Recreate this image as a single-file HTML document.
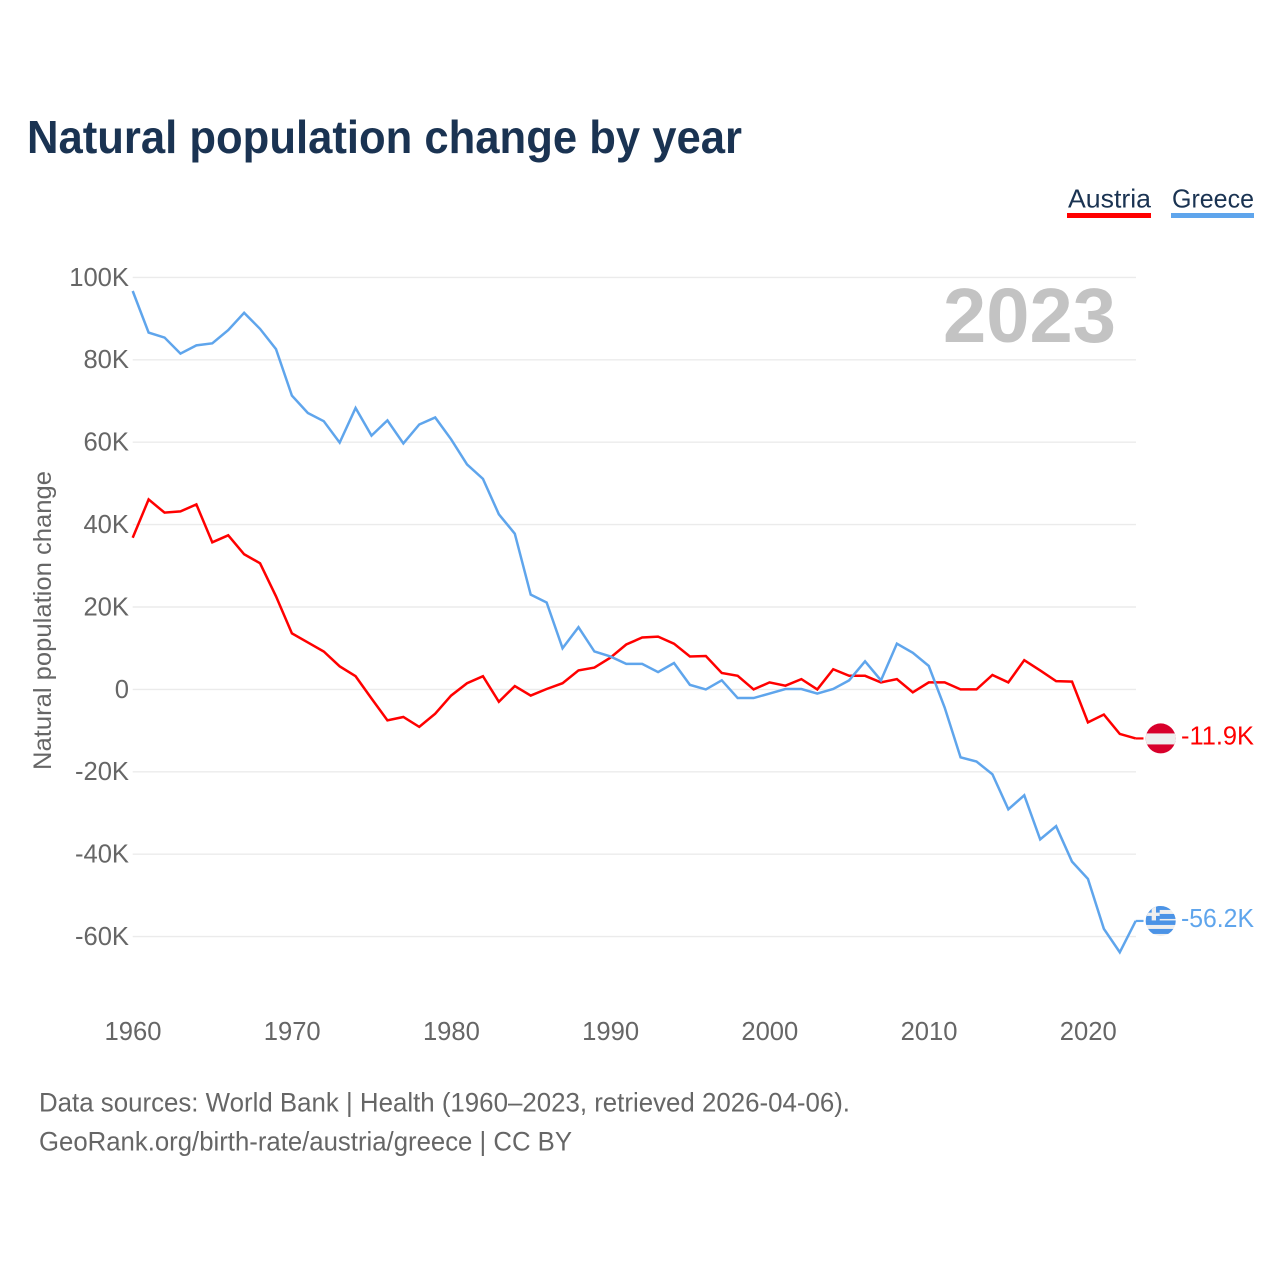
<!DOCTYPE html>
<html lang="en">
<head>
<meta charset="utf-8">
<title>Natural population change by year</title>
<style>
  html, body { margin: 0; padding: 0; background: #fff; }
  svg { display: block; font-family: "Liberation Sans", sans-serif; }
</style>
</head>
<body>
<svg id="chart" xmlns="http://www.w3.org/2000/svg" width="1280" height="1280" viewBox="0 0 1280 1280">
  <rect width="1280" height="1280" fill="#fff"/>
  <text x="27" y="153" font-size="46" font-weight="700" fill="#1a3352" textLength="715" lengthAdjust="spacingAndGlyphs">Natural population change by year</text>

  <g>
    <g>
      <text x="1068" y="207.5" font-size="26" fill="#1a3352" textLength="83" lengthAdjust="spacingAndGlyphs">Austria</text>
      <rect x="1067" y="213" width="84" height="5" fill="#ff0000"/>
    </g>
    <g>
      <text x="1172" y="207.5" font-size="26" fill="#1a3352" textLength="82" lengthAdjust="spacingAndGlyphs">Greece</text>
      <rect x="1171" y="213" width="83" height="5" fill="#5fa5ec"/>
    </g>
  </g>

  <text transform="translate(51 770) rotate(-90)" font-size="25" fill="#666" textLength="299" lengthAdjust="spacingAndGlyphs">Natural population change</text>

  <g id="grid"></g>
  <g id="yticks"></g>
  <g id="xticks"></g>

  <text x="943" y="342" font-size="77" font-weight="700" fill="#c3c3c3" textLength="173" lengthAdjust="spacingAndGlyphs">2023</text>

  <g id="lines"></g>
  <g id="ends"></g>

  <defs>
    <clipPath id="clip-flag"><circle cx="0" cy="0" r="15"/></clipPath>
  </defs>

  <g>
    <text x="39" y="1111.5" font-size="27" fill="#666" textLength="811" lengthAdjust="spacingAndGlyphs">Data sources: World Bank | Health (1960–2023, retrieved 2026-04-06).</text>
    <text x="39" y="1150.5" font-size="27" fill="#666" textLength="533" lengthAdjust="spacingAndGlyphs">GeoRank.org/birth-rate/austria/greece | CC BY</text>
  </g>
</svg>
<script>
const years = [1960,1961,1962,1963,1964,1965,1966,1967,1968,1969,1970,1971,1972,1973,1974,1975,1976,1977,1978,1979,1980,1981,1982,1983,1984,1985,1986,1987,1988,1989,1990,1991,1992,1993,1994,1995,1996,1997,1998,1999,2000,2001,2002,2003,2004,2005,2006,2007,2008,2009,2010,2011,2012,2013,2014,2015,2016,2017,2018,2019,2020,2021,2022,2023];
const austria = [36.8,46.1,42.9,43.2,44.9,35.7,37.4,32.8,30.6,22.6,13.6,11.4,9.2,5.6,3.2,-2.2,-7.5,-6.7,-9.1,-5.9,-1.5,1.5,3.2,-3.0,0.8,-1.5,0.1,1.5,4.6,5.3,7.7,10.9,12.6,12.8,11.1,8.0,8.1,4.0,3.3,0.0,1.7,0.9,2.5,0.0,4.9,3.3,3.3,1.7,2.5,-0.7,1.7,1.7,0.0,0.0,3.5,1.7,7.1,4.6,2.0,1.9,-8.0,-6.1,-10.8,-11.9];
const greece = [96.7,86.6,85.4,81.5,83.5,84.0,87.2,91.4,87.5,82.6,71.3,67.1,65.1,59.9,68.3,61.6,65.3,59.7,64.3,66.0,60.7,54.6,51.1,42.5,37.8,23.0,21.1,10.0,15.1,9.2,8.0,6.2,6.2,4.2,6.4,1.1,0.0,2.2,-2.1,-2.1,-1.0,0.1,0.1,-1.0,0.1,2.2,6.8,2.2,11.1,8.9,5.7,-4.4,-16.5,-17.5,-20.6,-29.1,-25.7,-36.4,-33.2,-41.8,-46.0,-58.1,-63.8,-56.2];
const yTickValues = [100,80,60,40,20,0,-20,-40,-60];
const xTickValues = [1960,1970,1980,1990,2000,2010,2020];

const NS = 'http://www.w3.org/2000/svg';
const plotLeft = 132.7, plotRight = 1135.7, gridRight = 1136, yTop = 277.4, yBottom = 936.6;
function xScale(year) { return plotLeft + (year - 1960) * (plotRight - plotLeft) / 63; }
function yScale(v) { return yTop + (100 - v) * (yBottom - yTop) / 160; }
function make(tag, attrs, parent) {
  const el = document.createElementNS(NS, tag);
  for (const k in attrs) el.setAttribute(k, attrs[k]);
  parent.appendChild(el);
  return el;
}
const grid = document.getElementById('grid');
const yticks = document.getElementById('yticks');
const xticks = document.getElementById('xticks');
const lines = document.getElementById('lines');
const ends = document.getElementById('ends');

yTickValues.forEach(function (v) {
  const line = make('line', { x1: plotLeft, x2: gridRight, y1: yScale(v), y2: yScale(v), stroke: '#ebebeb', 'stroke-width': 1.4 }, grid);
  
  
  const t = make('text', { x: 129, y: yScale(v) + 8.4, 'text-anchor': 'end', 'font-size': 25.6, fill: '#666' }, yticks);
  
  
  t.textContent = v === 0 ? '0' : v + 'K';
});

xTickValues.forEach(function (year) {
  const t = make('text', { x: xScale(year) + 0.3, y: 1040, 'text-anchor': 'middle', 'font-size': 25.6, fill: '#666' }, xticks);
  
  
  t.textContent = String(year);
});

function drawSeries(values, color, name) {
  const pts = values.map(function (v, i) { return xScale(years[i]).toFixed(2) + ',' + yScale(v).toFixed(2); });
  const line = make('polyline', { points: pts.join(' '), fill: 'none', stroke: color, 'stroke-width': 2.5, 'stroke-linejoin': 'miter' }, lines);
  
  
  const lastY = yScale(values[values.length - 1]);
  const tail = make('line', { x1: plotRight, x2: 1143.5, y1: lastY, y2: lastY, stroke: color, 'stroke-width': 2.2 }, lines);
  
  
}
drawSeries(austria, '#ff0000', 'austria');
drawSeries(greece, '#5fa5ec', 'greece');

function endLabel(values, color, name) {
  const last = values[values.length - 1];
  const t = make('text', { x: 1181, y: yScale(last) + 6, 'font-size': 25.6, fill: color, textLength: 73, lengthAdjust: 'spacingAndGlyphs' }, ends);
  
  
  t.textContent = last.toFixed(1) + 'K';
}
endLabel(austria, '#ff0000', 'austria');
endLabel(greece, '#5fa5ec', 'greece');

const flagAustria = make('g', { transform: 'translate(1160.7 ' + yScale(austria[austria.length - 1]) + ')', 'clip-path': 'url(#clip-flag)' }, ends);


make('rect', { x: -16, y: -16, width: 32, height: 32, fill: '#d8002b' }, flagAustria);
make('rect', { x: -16, y: -5, width: 32, height: 11, fill: '#eeeeee' }, flagAustria);

const flagGreece = make('g', { transform: 'translate(1160.7 ' + yScale(greece[greece.length - 1]) + ')', 'clip-path': 'url(#clip-flag)' }, ends);


make('rect', { x: -16, y: -16, width: 32, height: 32, fill: '#eeeeee' }, flagGreece);
make('rect', { x: -16, y: -16, width: 32, height: 5, fill: '#4b93e6' }, flagGreece);
make('rect', { x: -16, y: -7, width: 32, height: 5, fill: '#4b93e6' }, flagGreece);
make('rect', { x: -16, y: -0.5, width: 32, height: 4.5, fill: '#4b93e6' }, flagGreece);
make('rect', { x: -16, y: 8, width: 32, height: 5, fill: '#4b93e6' }, flagGreece);
make('rect', { x: -16, y: -16, width: 15, height: 15.5, fill: '#4b93e6' }, flagGreece);
make('rect', { x: -9, y: -16, width: 4.3, height: 15.5, fill: '#eeeeee' }, flagGreece);
make('rect', { x: -16, y: -8.3, width: 15, height: 3.3, fill: '#eeeeee' }, flagGreece);
</script>
</body>
</html>
